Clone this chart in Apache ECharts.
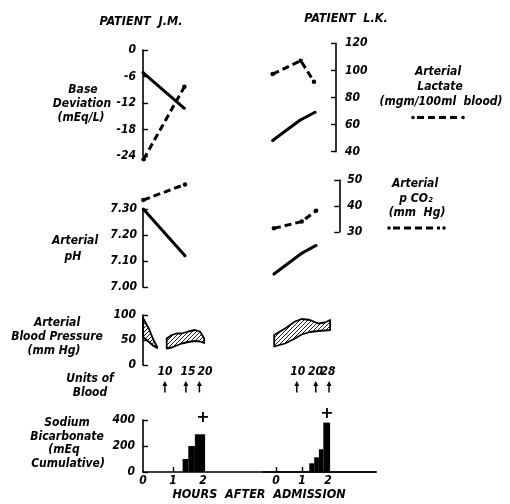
<!DOCTYPE html>
<html><head><meta charset="utf-8">
<script src="https://cdn.jsdelivr.net/npm/echarts@6/dist/echarts.min.js"></script>
<style>html,body{margin:0;padding:0;background:#fff}#c{width:510px;height:504px}</style>
</head><body><div id="c"></div>
<script>
// ---------------- DATA ----------------
// Panel 1: base deviation (solid, left scale) and arterial lactate (dashed, right scale)
const jmBaseHours = [0, 1.38];
const jmBaseDev = [-5.1, -13.2];
const jmLactateHours = [0.02, 1.38];
const jmLactate = [34.4, 88.0];
const lkBaseHours = [-0.13, 0.92, 1.5];
const lkBaseDev = [-20.5, -15.9, -14.1];
const lkLactateHours = [-0.13, 0.95, 1.46];
const lkLactate = [97.3, 107.2, 91.7];

// Panel 2: arterial pH (solid, left scale) and arterial pCO2 (dashed, right scale)
const jmPhHours = [0.01, 1.4];
const jmPh = [7.30, 7.12];
const jmPco2Hours = [0.01, 1.4];
const jmPco2 = [42.3, 48.3];
const lkPhHours = [-0.08, 0.99, 1.54];
const lkPh = [7.05, 7.13, 7.16];
const lkPco2Hours = [-0.08, 0.99, 1.54];
const lkPco2 = [31.4, 34.0, 38.2];

// Panel 3: arterial blood pressure bands (mm Hg)
const jmBp1Hours = [0, 0.2, 0.35, 0.47];
const jmBp1High = [94, 72, 50, 36];
const jmBp1Low = [56, 46, 38, 34];
const jmBp2Hours = [0.79, 0.96, 1.12, 1.29, 1.51, 1.73, 1.9, 2.04];
const jmBp2High = [53, 60, 63, 63, 67, 70, 67, 53];
const jmBp2Low = [33, 35, 39, 43, 46, 48, 47, 44];
const lkBpHours = [-0.07, 0.35, 0.73, 0.99, 1.31, 1.63, 1.88, 2.08];
const lkBpHigh = [60, 73, 87, 92, 90, 83, 85, 90];
const lkBpLow = [37, 43, 53, 61, 66, 68, 69, 70];

// Units of blood (cumulative): arrow hour, label hour, label
const jmBloodHours = [0.73, 1.43, 1.88];
const jmBloodLabelHours = [0.73, 1.5, 2.07];
const jmBloodUnits = ['10', '15', '20'];
const lkBloodHours = [0.8, 1.53, 2.04];
const lkBloodLabelHours = [0.84, 1.52, 2.0];
const lkBloodUnits = ['10', '20', '28'];

// Sodium bicarbonate, cumulative mEq (step bars: start hour, end hour, value)
const jmBicarbStart = [1.32, 1.51, 1.73];
const jmBicarbEnd = [1.51, 1.73, 2.07];
const jmBicarb = [100, 200, 290];
const lkBicarbStart = [1.28, 1.47, 1.65, 1.82];
const lkBicarbEnd = [1.47, 1.65, 1.82, 2.08];
const lkBicarb = [67, 113, 175, 380];

// Death marks (+)
const jmDeath = [2.0, 415];
const lkDeath = [1.96, 446];

// Tick labels
const bdTicks = { min: -24, max: 0, interval: 6 };
const lacTicks = { min: 40, max: 120, interval: 20 };
const phTicks = { min: 7.0, max: 7.3, interval: 0.1 };
const pco2Ticks = { min: 30, max: 50, interval: 10 };
const bpTicks = { min: 0, max: 100, interval: 50 };
const bicarbTicks = { min: 0, max: 400, interval: 200 };
const hourLabels = [0, 1, 2];

// ---------------- LAYOUT ----------------
const FONT = '"DejaVu Sans Condensed", "Liberation Sans", sans-serif';
const NARROW = '"Liberation Sans Narrow", "DejaVu Sans Condensed", sans-serif';
const lbl = { color: '#000', fontFamily: FONT, fontStyle: 'italic', fontWeight: 'bold', fontSize: 12 };
const JM = { left: 143, pxPerH: 30, min: 0, w: 120 };
const LK = { left: 263, pxPerH: 26, min: -0.5, w: 113 };

const grids = [], xAxes = [], yAxes = [];
function addGrid(p, top, height, width, yCfg) {
  const w = width || p.w;
  grids.push({ left: p.left, top: top, width: w, height: height });
  const idx = grids.length - 1;
  xAxes.push({ type: 'value', gridIndex: idx, min: p.min, max: p.min + w / p.pxPerH, show: false });
  yAxes.push(Object.assign({ type: 'value', gridIndex: idx, show: false, splitLine: { show: false } }, yCfg));
  return idx;
}
function shownY(t, pos, margin, fmt) {
  return {
    show: true, min: t.min, max: t.max, interval: t.interval, position: pos,
    axisLine: { show: true, onZero: false, lineStyle: { color: '#000', width: 1.6 } },
    axisTick: { show: true, inside: true, length: 5, lineStyle: { color: '#000', width: 1.4 } },
    axisLabel: Object.assign({ margin: margin, formatter: fmt }, lbl),
    splitLine: { show: false }
  };
}
const gJmBd = addGrid(JM, 50, 106, null, shownY(bdTicks, 'left', 7));
const gJmLac = addGrid(JM, 43.3, 108.4, null, { min: lacTicks.min, max: lacTicks.max });
const gLkBd = addGrid(LK, 50, 106, null, { min: bdTicks.min, max: bdTicks.max });
const gLkLac = addGrid(LK, 43.3, 108.4, 73, shownY(lacTicks, 'right', 9));
const gJmPh = addGrid(JM, 209, 78, null, shownY(phTicks, 'left', 6, v => v.toFixed(2)));
const gJmPco2 = addGrid(JM, 180, 52, null, { min: pco2Ticks.min, max: pco2Ticks.max });
const gLkPh = addGrid(LK, 209, 78, null, { min: phTicks.min, max: phTicks.max });
const gLkPco2 = addGrid(LK, 180, 52, 76.3, shownY(pco2Ticks, 'right', 8));
const gJmBp = addGrid(JM, 315, 50, null, shownY(bpTicks, 'left', 7));
const gLkBp = addGrid(LK, 315, 50, null, { min: bpTicks.min, max: bpTicks.max });
const gJmU = addGrid(JM, 366, 30, null, { min: 0, max: 1 });
const gLkU = addGrid(LK, 366, 30, null, { min: 0, max: 1 });
const gJmBi = addGrid(JM, 420, 52, 233, shownY(bicarbTicks, 'left', 8));
const gLkBi = addGrid(LK, 420, 52, null, { min: bicarbTicks.min, max: bicarbTicks.max });

function bottomAxis(i, ticks) {
  Object.assign(xAxes[i], {
    show: true,
    axisLine: { show: true, onZero: false, lineStyle: { color: '#000', width: 1.6 } },
    axisTick: { show: true, inside: true, length: 5, customValues: ticks, lineStyle: { color: '#000', width: 1.4 } },
    axisLabel: Object.assign({ margin: 3, customValues: hourLabels }, lbl),
    splitLine: { show: false }
  });
}
bottomAxis(gJmBi, [1, 2]);
bottomAxis(gLkBi, [0, 1, 2]);

// hatch pattern
const hatch = document.createElement('canvas');
hatch.width = 4; hatch.height = 4;
const hg = hatch.getContext('2d');
hg.strokeStyle = '#000'; hg.lineWidth = 0.9;
hg.beginPath();
hg.moveTo(0, 4); hg.lineTo(4, 0);
hg.moveTo(-1, 1); hg.lineTo(1, -1);
hg.moveTo(3, 5); hg.lineTo(5, 3);
hg.stroke();

const zip = (a, b) => a.map((v, i) => [v, b[i]]);
function lineSeries(g, xs, ys, dashed) {
  return {
    type: 'line', xAxisIndex: g, yAxisIndex: g, data: zip(xs, ys), clip: false,
    symbol: 'circle', symbolSize: dashed ? 4.5 : 3, showSymbol: true,
    itemStyle: { color: '#000' },
    lineStyle: { color: '#000', width: 3, type: dashed ? [7, 4] : 'solid', cap: 'butt' },
    animation: false, silent: true
  };
}
function bandSeries(g, xs, hi, lo) {
  return {
    type: 'custom', xAxisIndex: g, yAxisIndex: g, data: [[xs[0], lo[0]]], clip: false, animation: false, silent: true,
    renderItem: function (params, api) {
      const pts = xs.map((x, i) => api.coord([x, hi[i]]));
      for (let i = xs.length - 1; i >= 0; i--) pts.push(api.coord([xs[i], lo[i]]));
      return { type: 'polygon', shape: { points: pts },
        style: { fill: { image: hatch, repeat: 'repeat' }, stroke: '#000', lineWidth: 1.8, lineJoin: 'round' } };
    }
  };
}
function barSeries(g, s, e, v) {
  return {
    type: 'custom', xAxisIndex: g, yAxisIndex: g, animation: false, silent: true,
    data: s.map((x, i) => [x, e[i], v[i]]), encode: { x: [0, 1], y: 2 },
    renderItem: function (params, api) {
      const a = api.coord([api.value(0), api.value(2)]);
      const b = api.coord([api.value(1), 0]);
      return { type: 'rect', shape: { x: a[0], y: a[1], width: b[0] - a[0], height: b[1] - a[1] }, style: { fill: '#000' } };
    }
  };
}
function unitsSeries(g, hours, labelHours, labels) {
  return {
    type: 'custom', xAxisIndex: g, yAxisIndex: g, animation: false, silent: true, clip: false,
    data: hours.map((h, i) => [h, 0.5, labelHours[i]]), encode: { x: 0, y: 1 },
    renderItem: function (params, api) {
      const h = api.value(0);
      const t = api.coord([api.value(2), 0.8]), tip = api.coord([h, 0.5]), tail = api.coord([h, 0.12]);
      return { type: 'group', children: [
        { type: 'text', style: { text: labels[params.dataIndex], x: t[0], y: t[1], font: 'italic bold 12px ' + NARROW, fill: '#000',
          textAlign: 'center', textVerticalAlign: 'middle', align: 'center', verticalAlign: 'middle' } },
        { type: 'line', shape: { x1: tip[0], y1: tip[1] + 3, x2: tail[0], y2: tail[1] }, style: { stroke: '#000', lineWidth: 1.5 } },
        { type: 'polygon', shape: { points: [[tip[0], tip[1]], [tip[0] - 2.5, tip[1] + 5], [tip[0] + 2.5, tip[1] + 5]] }, style: { fill: '#000' } }
      ] };
    }
  };
}
function deathSeries(g, pt) {
  return {
    type: 'custom', xAxisIndex: g, yAxisIndex: g, animation: false, silent: true, clip: false,
    data: [pt], encode: { x: 0, y: 1 },
    renderItem: function (params, api) {
      const p = api.coord([api.value(0), api.value(1)]);
      return { type: 'text', style: { text: '+', x: p[0], y: p[1], font: 'bold 16px "DejaVu Sans", sans-serif', fill: '#000',
        textAlign: 'center', textVerticalAlign: 'middle', align: 'center', verticalAlign: 'middle' } };
    }
  };
}

const series = [
  lineSeries(gJmBd, jmBaseHours, jmBaseDev, false),
  lineSeries(gJmLac, jmLactateHours, jmLactate, true),
  lineSeries(gLkBd, lkBaseHours, lkBaseDev, false),
  lineSeries(gLkLac, lkLactateHours, lkLactate, true),
  lineSeries(gJmPh, jmPhHours, jmPh, false),
  lineSeries(gJmPco2, jmPco2Hours, jmPco2, true),
  lineSeries(gLkPh, lkPhHours, lkPh, false),
  lineSeries(gLkPco2, lkPco2Hours, lkPco2, true),
  bandSeries(gJmBp, jmBp1Hours, jmBp1High, jmBp1Low),
  bandSeries(gJmBp, jmBp2Hours, jmBp2High, jmBp2Low),
  bandSeries(gLkBp, lkBpHours, lkBpHigh, lkBpLow),
  unitsSeries(gJmU, jmBloodHours, jmBloodLabelHours, jmBloodUnits),
  unitsSeries(gLkU, lkBloodHours, lkBloodLabelHours, lkBloodUnits),
  barSeries(gJmBi, jmBicarbStart, jmBicarbEnd, jmBicarb),
  barSeries(gLkBi, lkBicarbStart, lkBicarbEnd, lkBicarb),
  deathSeries(gJmBi, jmDeath),
  deathSeries(gLkBi, lkDeath)
];

// ---------------- TEXT ----------------
function txt(s, x, y, size) {
  return { type: 'text', x: x, y: y, silent: true,
    style: { text: s, font: 'italic bold ' + (size || 12) + 'px ' + FONT, fill: '#000',
      textAlign: 'center', textVerticalAlign: 'middle', align: 'center', verticalAlign: 'middle' } };
}
function legendDash(x1, x2, y) {
  return [
    { type: 'line', silent: true, shape: { x1: x1 + 4, y1: y, x2: x2 - 4, y2: y }, style: { stroke: '#000', lineWidth: 3, lineDash: [7, 4] } },
    { type: 'circle', silent: true, shape: { cx: x1, cy: y, r: 1.8 }, style: { fill: '#000' } },
    { type: 'circle', silent: true, shape: { cx: x2, cy: y, r: 1.8 }, style: { fill: '#000' } }
  ];
}
const graphics = [
  txt('PATIENT  J.M.', 141, 21.5, 12.5),
  txt('PATIENT  L.K.', 346, 18.5, 12.5),
  txt('Base', 83, 90), txt('Deviation', 82, 104), txt('(mEq/L)', 81, 118),
  txt('Arterial', 75, 241), txt('pH', 73, 257),
  txt('Arterial', 57, 323), txt('Blood Pressure', 57, 337), txt('(mm Hg)', 54, 351),
  txt('Units of', 90, 379), txt('Blood', 90, 393),
  txt('Sodium', 67, 423), txt('Bicarbonate', 67, 437), txt('(mEq', 64, 450), txt('Cumulative)', 68, 464),
  txt('Arterial', 438, 72), txt('Lactate', 440, 87), txt('(mgm/100ml  blood)', 441, 102),
  txt('Arterial', 415, 184), txt('p CO\u2082', 416, 199), txt('(mm  Hg)', 417, 213),
  txt('HOURS  AFTER  ADMISSION', 259, 495, 12.5)
].concat(legendDash(413, 463, 117.5), legendDash(389, 444, 228));

const chart = echarts.init(document.getElementById('c'), null, { renderer: 'canvas' });
chart.setOption({
  backgroundColor: '#fff',
  animation: false,
  grid: grids, xAxis: xAxes, yAxis: yAxes,
  series: series,
  graphic: { elements: graphics }
});
</script></body></html>
